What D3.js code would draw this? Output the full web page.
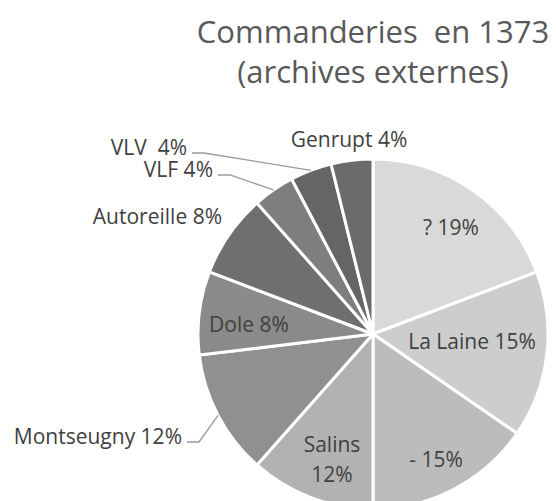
<!DOCTYPE html>
<html lang="fr">
<head>
  <meta charset="UTF-8" />
  <title>Commanderies en 1373</title>
  <script src="https://d3js.org/d3.v7.min.js"></script>
  <style>
    body { margin: 0; background: #fff; }
    svg { display: block; font-family: "Open Sans", sans-serif; }
  </style>
</head>
<body>
  <svg width="556" height="501"></svg>
  <script>
    // data: number of commanderies per source (percent labels derived)
    const names = ["?", "La Laine", "-", "Salins", "Montseugny", "Dole", "Autoreille", "VLF", "VLV", "Genrupt"];
    const counts = [5, 4, 4, 3, 3, 2, 2, 1, 1, 1];
    const fills = ["#d9d9d9", "#cdcdcd", "#bcbcbc", "#b2b2b2", "#909090", "#8a8a8a", "#6f6f6f", "#7e7e7e", "#656565", "#6b6b6b"];
    const titleLines = ["Commanderies  en 1373", "(archives externes)"];

    // label layout: offset of text baseline from pie centre, leader line if any
    const labelLayout = [
      { dx: 78, dy: -99, anchor: "middle" },
      { dx: 99, dy: 15, anchor: "middle" },
      { dx: 63, dy: 133, anchor: "middle" },
      { dx: -41, dy: 118, anchor: "middle", wrap: true },
      { dx: -191, dy: 110, anchor: "end", line: true },
      { dx: -124, dy: -2, anchor: "middle" },
      { dx: -151, dy: -110, anchor: "end" },
      { dx: -160, dy: -157, anchor: "end", line: true },
      { dx: -186, dy: -179, anchor: "end", line: true, gap: true },
      { dx: -24, dy: -187, anchor: "middle" }
    ];

    const svg = d3.select("svg");
    const cx = 373, cy = 334, r = 175;
    const total = d3.sum(counts);
    const pct = v => Math.round(v / total * 100) + "%";

    svg.selectAll("text.title")
      .data(titleLines)
      .enter()
      .append("text")
      .attr("class", "title")
      .attr("x", cx)
      .attr("y", (d, i) => 43 + i * 40)
      .attr("text-anchor", "middle")
      .attr("font-size", 31)
      .attr("fill", "#595959")
      .style("white-space", "pre")
      .text(d => d);

    const pie = d3.pie().sort(null).value(d => d);
    const arcs = pie(counts);
    const arc = d3.arc().innerRadius(0).outerRadius(r);

    const g = svg.append("g").attr("transform", `translate(${cx},${cy})`);

    g.selectAll("path.slice")
      .data(arcs)
      .enter()
      .append("path")
      .attr("class", "slice")
      .attr("d", arc)
      .attr("fill", (d, i) => fills[i])
      .attr("stroke", "#fff")
      .attr("stroke-width", 3)
      .attr("stroke-linejoin", "round");

    // leader lines: short horizontal after the text, then to the slice edge
    arcs.forEach((d, i) => {
      const L = labelLayout[i];
      if (!L.line) return;
      const mid = (d.startAngle + d.endAngle) / 2;
      const px = Math.sin(mid) * r, py = -Math.cos(mid) * r;
      const tx = L.dx + 5, ty = L.dy - 2;
      g.append("path")
        .attr("d", d3.line()([[tx, ty], [tx + 12, ty], [px, py]]))
        .attr("fill", "none")
        .attr("stroke", "#9a9a9a")
        .attr("stroke-width", 1.3);
    });

    const labels = g.selectAll("text.lbl")
      .data(arcs)
      .enter()
      .append("text")
      .attr("class", "lbl")
      .attr("x", (d, i) => labelLayout[i].dx)
      .attr("y", (d, i) => labelLayout[i].dy)
      .attr("text-anchor", (d, i) => labelLayout[i].anchor)
      .attr("font-size", 21)
      .attr("fill", "#404040")
      .style("white-space", "pre");

    labels.each(function(d, i) {
      const t = d3.select(this), L = labelLayout[i];
      if (L.wrap) {
        t.append("tspan").attr("x", L.dx).attr("dy", 0).text(names[i]);
        t.append("tspan").attr("x", L.dx).attr("dy", 30).text(pct(d.data));
      } else {
        t.text(names[i] + (L.gap ? "  " : " ") + pct(d.data));
      }
    });
  </script>
</body>
</html>
